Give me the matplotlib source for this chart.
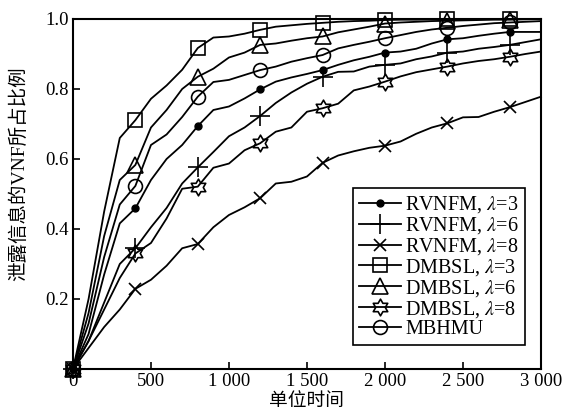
import numpy as np
import matplotlib
matplotlib.use('Agg')
import matplotlib.pyplot as plt
from matplotlib.path import Path

plt.rcParams['font.family'] = ['Liberation Serif', 'Noto Sans CJK SC']
plt.rcParams['mathtext.fontset'] = 'stix'

t = np.arange(0, 3001, 100)

rvnfm_3 = [0, 0.10, 0.27, 0.416, 0.459, 0.54, 0.60, 0.64, 0.694, 0.74, 0.75,
           0.773, 0.799, 0.821, 0.833, 0.843, 0.854, 0.869, 0.882, 0.892, 0.904,
           0.907, 0.915, 0.93, 0.942, 0.945, 0.952, 0.958, 0.963, 0.963, 0.963]
rvnfm_6 = [0, 0.08, 0.19, 0.30, 0.345, 0.405, 0.46, 0.53, 0.576, 0.62, 0.665,
           0.69, 0.723, 0.76, 0.79, 0.815, 0.835, 0.849, 0.85, 0.864, 0.869,
           0.873, 0.885, 0.893, 0.904, 0.907, 0.915, 0.92, 0.926, 0.934, 0.942]
rvnfm_8 = [0, 0.06, 0.12, 0.17, 0.229, 0.255, 0.295, 0.345, 0.357, 0.405, 0.44,
           0.462, 0.488, 0.53, 0.535, 0.55, 0.589, 0.61, 0.622, 0.632, 0.638,
           0.65, 0.672, 0.69, 0.702, 0.719, 0.72, 0.735, 0.748, 0.763, 0.778]
dmbsl_3 = [0, 0.20, 0.45, 0.66, 0.711, 0.772, 0.81, 0.855, 0.917, 0.947, 0.95,
           0.958, 0.969, 0.978, 0.982, 0.986, 0.989, 0.992, 0.994, 0.995, 0.997,
           0.998, 0.998, 0.999, 0.999, 0.999, 1.0, 1.0, 1.0, 1.0, 1.0]
dmbsl_6 = [0, 0.16, 0.38, 0.54, 0.583, 0.69, 0.74, 0.80, 0.835, 0.858, 0.89,
           0.904, 0.926, 0.93, 0.938, 0.945, 0.95, 0.962, 0.97, 0.978, 0.987,
           0.99, 0.992, 0.994, 0.995, 0.996, 0.997, 0.998, 0.998, 0.999, 1.0]
dmbsl_8 = [0, 0.08, 0.17, 0.26, 0.33, 0.36, 0.43, 0.515, 0.521, 0.575, 0.587,
           0.625, 0.645, 0.678, 0.69, 0.735, 0.745, 0.758, 0.796, 0.807, 0.821,
           0.836, 0.848, 0.856, 0.864, 0.873, 0.88, 0.885, 0.892, 0.90, 0.907]
mbhmu = [0, 0.13, 0.32, 0.47, 0.523, 0.64, 0.67, 0.72, 0.778, 0.82, 0.826,
         0.84, 0.854, 0.864, 0.878, 0.888, 0.897, 0.916, 0.926, 0.935, 0.945,
         0.954, 0.963, 0.97, 0.975, 0.98, 0.984, 0.988, 0.99, 0.992, 0.994]

xticks = [0, 500, 1000, 1500, 2000, 2500, 3000]
xticklabels = ['0', '500', '1 000', '1 500', '2 000', '2 500', '3 000']
yticks = [0.2, 0.4, 0.6, 0.8, 1.0]

# hexagram outline (star of David)
ang = np.pi / 2 + np.arange(12) * np.pi / 6
rad = np.where(np.arange(12) % 2 == 0, 1.0, 1 / np.sqrt(3))
verts = np.column_stack([rad * np.cos(ang), rad * np.sin(ang)])
verts = np.vstack([verts, verts[:1]])
hexagram = Path(verts, [Path.MOVETO] + [Path.LINETO] * 11 + [Path.CLOSEPOLY])

series = [
    (rvnfm_3, r'RVNFM, $\lambda$=3', dict(marker='o', ms=5, mfc='k')),
    (rvnfm_6, r'RVNFM, $\lambda$=6', dict(marker='+', ms=14, mew=1.2)),
    (rvnfm_8, r'RVNFM, $\lambda$=8', dict(marker='x', ms=9, mew=1.2)),
    (dmbsl_3, r'DMBSL, $\lambda$=3', dict(marker='s', ms=10, mfc='none', mew=1.2)),
    (dmbsl_6, r'DMBSL, $\lambda$=6', dict(marker='^', ms=12, mfc='none', mew=1.2)),
    (dmbsl_8, r'DMBSL, $\lambda$=8', dict(marker=hexagram, ms=12, mfc='none', mew=1.2)),
    (mbhmu, 'MBHMU', dict(marker='o', ms=10, mfc='none', mew=1.2)),
]

fig = plt.figure(figsize=(5.67, 4.11), dpi=100)
ax = fig.add_axes([0.1287, 0.1022, 0.8254, 0.8516])

for vals, lab, mk in series:
    ax.plot(t, vals, color='k', lw=1.3, label=lab, markevery=4,
            mec='k', clip_on=False, **mk)

ax.set_xlim(0, 3000)
ax.set_ylim(0, 1.0)
ax.set_xticks(xticks)
ax.set_xticklabels(xticklabels)
ax.set_yticks(yticks)
ax.set_yticklabels([f'{v:.1f}' for v in yticks])
ax.tick_params(direction='in', length=5, width=1.2, labelsize=13.5, pad=3)
for s in ax.spines.values():
    s.set_linewidth(1.5)

ax.set_xlabel('单位时间', fontsize=13.5, family=['Noto Sans CJK SC'], va='center')
ax.xaxis.set_label_coords(0.5, -0.089)
ax.set_ylabel('泄露信息的VNF所占比例', fontsize=14,
              family=['Liberation Serif', 'Noto Sans CJK SC'])
ax.yaxis.set_label_coords(-0.095, 0.557)

leg = ax.legend(loc='lower right', fontsize=14.5, handlelength=2.1,
                handletextpad=0.2, labelspacing=0.0, borderpad=0.3,
                fancybox=False, framealpha=1, edgecolor='k',
                bbox_to_anchor=(0.987, 0.04))
leg.get_frame().set_linewidth(1.2)

fig.savefig('out.png', dpi=100)
